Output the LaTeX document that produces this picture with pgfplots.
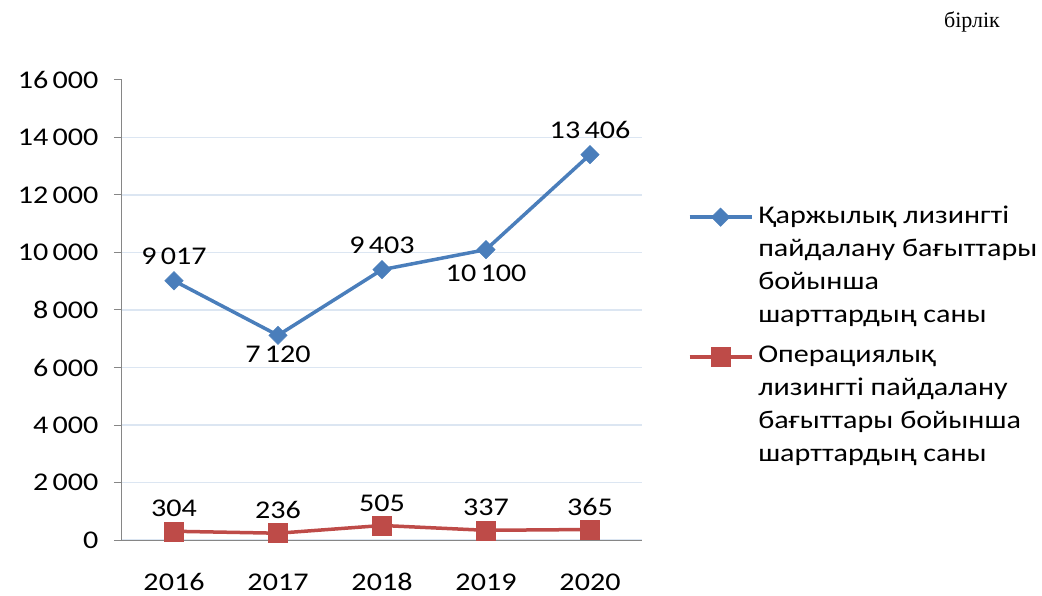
\documentclass[border=0pt]{standalone}
\usepackage{pgfplots}
\pgfplotsset{compat=1.18}
\usepackage{fontspec}
\setmainfont{Carlito}[FakeStretch=1.18]
\newfontfamily\serifcyr{Liberation Serif}
\definecolor{blueS}{HTML}{4A7EBB}
\definecolor{redS}{HTML}{BE4B48}
\definecolor{gridc}{HTML}{DCE6F2}
\definecolor{axc}{HTML}{868686}
\begin{document}
\begin{tikzpicture}
\useasboundingbox (0,0) rectangle (1042pt,595pt);
\begin{axis}[
  at={(122pt,55pt)}, anchor=south west,
  scale only axis, width=520pt, height=460pt,
  xmin=-0.5, xmax=4.5, ymin=0, ymax=16000,
  axis x line*=bottom, axis y line*=left,
  axis line style={axc, line width=1pt},
  every tick/.style={axc, line width=1pt},
  xtick={0,1,2,3,4}, xticklabels={2016,2017,2018,2019,2020},
  x tick style={draw=none},
  extra x ticks={-0.5,0.5,1.5,2.5,3.5,4.5}, extra x tick labels={},
  extra x tick style={tick align=outside, major tick length=9pt, tick style={axc, line width=1pt}},
  x tick label style={yshift=-22pt},
  ytick={0,2000,...,14000},
  extra y ticks={16000}, extra y tick style={grid=none},
  scaled y ticks=false,
  y tick label style={xshift=-12pt},
  tick align=outside, major tick length=8pt,
  ymajorgrids, grid style={gridc, line width=1.3pt},
  /pgf/number format/1000 sep={\,},
  /pgf/number format/assume math mode=true,
  ticklabel style={font=\fontsize{25.5}{30}\selectfont, text=black},
  legend image code/.code={\draw[mark repeat=2,mark phase=2,#1] plot coordinates {(0pt,-13pt)(31pt,-13pt)(62pt,-13pt)};},
  legend cell align=left,
  legend style={draw=none, fill=none, at={(1.088,0.730)}, anchor=north west,
    inner sep=0pt, outer sep=0pt, row sep=15pt, column sep=3pt,
    font=\fontsize{25.5}{33}\selectfont,
    nodes={align=left, inner sep=2pt, text depth=, text=black},
    cells={anchor=north west}},
  nodes near coords style={font=\fontsize{25.5}{30}\selectfont, text=black, inner sep=0pt},
]
\addplot[blueS, line width=3.5pt, mark=square*, mark size=6.5pt,
  mark options={solid, rotate=45, fill=blueS, draw=blueS, line width=0.5pt},
  nodes near coords, point meta=y,
  visualization depends on={value \thisrow{pos} \as \pos},
  visualization depends on={value \thisrow{dy} \as \dy},
  nodes near coords style={anchor=\pos, yshift=\dy pt}]
table[x=x, y=y]{
x y pos dy
0 9017 south 16
1 7120 north -10
2 9403 south 16
3 10100 north -15
4 13406 south 16
};
\addlegendentry{Қаржылық лизингті\\пайдалану бағыттары\\бойынша\\шарттардың саны}
\addplot[redS, line width=3.5pt, mark=square*, mark size=9.5pt,
  mark options={solid, fill=redS, draw=redS, line width=0.5pt},
  nodes near coords, point meta=y,
  nodes near coords style={anchor=south, yshift=14pt}]
table[x=x, y=y]{
x y
0 304
1 236
2 505
3 337
4 365
};
\addlegendentry{Операциялық\\лизингті пайдалану\\бағыттары бойынша\\шарттардың саны}
\end{axis}
\node[font=\serifcyr\fontsize{22}{26}\selectfont, text=black] at (972pt,573pt) {бірлік};
\end{tikzpicture}
\end{document}
